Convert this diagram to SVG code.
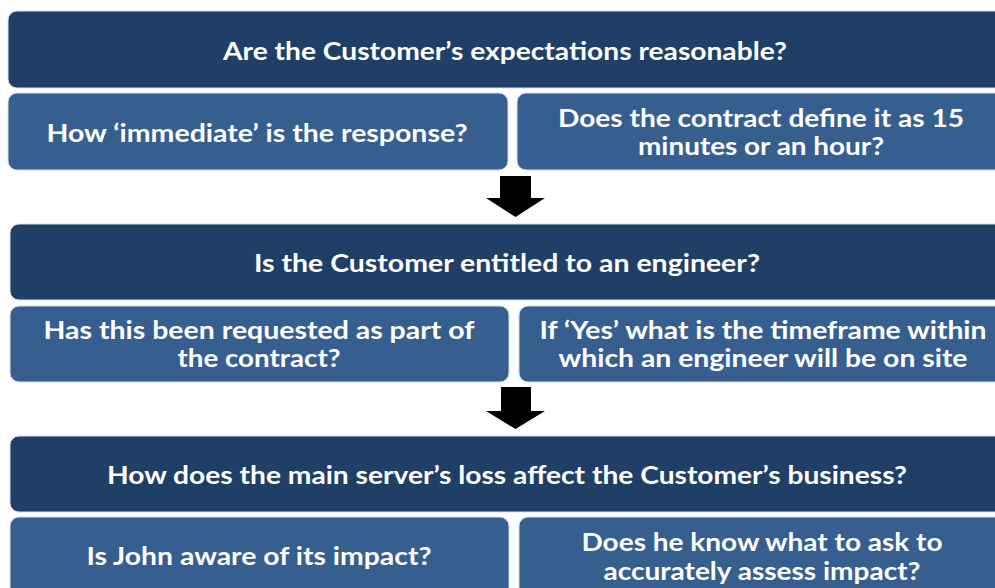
<svg xmlns="http://www.w3.org/2000/svg" width="995" height="588" viewBox="0 0 995 588">
<style>
.main{fill:#1F3F66;stroke:#d6dde8;stroke-width:1}
.sub{fill:#365F8F;stroke:#d6dde8;stroke-width:1}
text{font-family:Lato,"Open Sans",sans-serif;font-weight:bold;font-size:24px;fill:#ffffff;text-anchor:middle}
.arrow{fill:#000000}
</style>
<g id="q1">
<rect class="main" x="8" y="11" width="1010" height="77" rx="9"/>
<text x="505" y="60" textLength="564" lengthAdjust="spacingAndGlyphs">Are the Customer’s expectations reasonable?</text>
</g>
<g id="q1a">
<rect class="sub" x="8" y="93" width="500" height="77" rx="9"/>
<text x="257" y="142" textLength="421" lengthAdjust="spacingAndGlyphs">How ‘immediate’ is the response?</text>
</g>
<g id="q1b">
<rect class="sub" x="517" y="93" width="500" height="77" rx="9"/>
<text x="761" y="127" textLength="406" lengthAdjust="spacingAndGlyphs">Does the contract define it as 15</text>
<text x="761" y="155" textLength="246" lengthAdjust="spacingAndGlyphs">minutes or an hour?</text>
</g>
<g id="q2">
<rect class="main" x="10" y="224" width="1010" height="76" rx="9"/>
<text x="507" y="272" textLength="506" lengthAdjust="spacingAndGlyphs">Is the Customer entitled to an engineer?</text>
</g>
<g id="q2a">
<rect class="sub" x="10" y="306" width="499" height="76" rx="9"/>
<text x="259" y="339" textLength="431" lengthAdjust="spacingAndGlyphs">Has this been requested as part of</text>
<text x="259" y="367" textLength="163" lengthAdjust="spacingAndGlyphs">the contract?</text>
</g>
<g id="q2b">
<rect class="sub" x="519" y="306" width="500" height="76" rx="9"/>
<text x="763" y="339" textLength="447" lengthAdjust="spacingAndGlyphs">If ‘Yes’ what is the timeframe within</text>
<text x="763" y="367" textLength="409" lengthAdjust="spacingAndGlyphs">which an engineer will be on site</text>
</g>
<g id="q3">
<rect class="main" x="10" y="436" width="1010" height="76" rx="9"/>
<text x="507" y="484" textLength="800" lengthAdjust="spacingAndGlyphs">How does the main server’s loss affect the Customer’s business?</text>
</g>
<g id="q3a">
<rect class="sub" x="10" y="517" width="499" height="90" rx="9"/>
<text x="259" y="565" textLength="345" lengthAdjust="spacingAndGlyphs">Is John aware of its impact?</text>
</g>
<g id="q3b">
<rect class="sub" x="519" y="517" width="500" height="90" rx="9"/>
<text x="762" y="551" textLength="361" lengthAdjust="spacingAndGlyphs">Does he know what to ask to</text>
<text x="762" y="580" textLength="317" lengthAdjust="spacingAndGlyphs">accurately assess impact?</text>
</g>
<g id="connectors">
<polygon class="arrow" points="500,176 531,176 531,198 545,198 515.5,217 486,198 500,198"/>
<polygon class="arrow" points="501,387 531,387 531,411 545,411 515.5,429 486,411 501,411"/>
</g>
</svg>
